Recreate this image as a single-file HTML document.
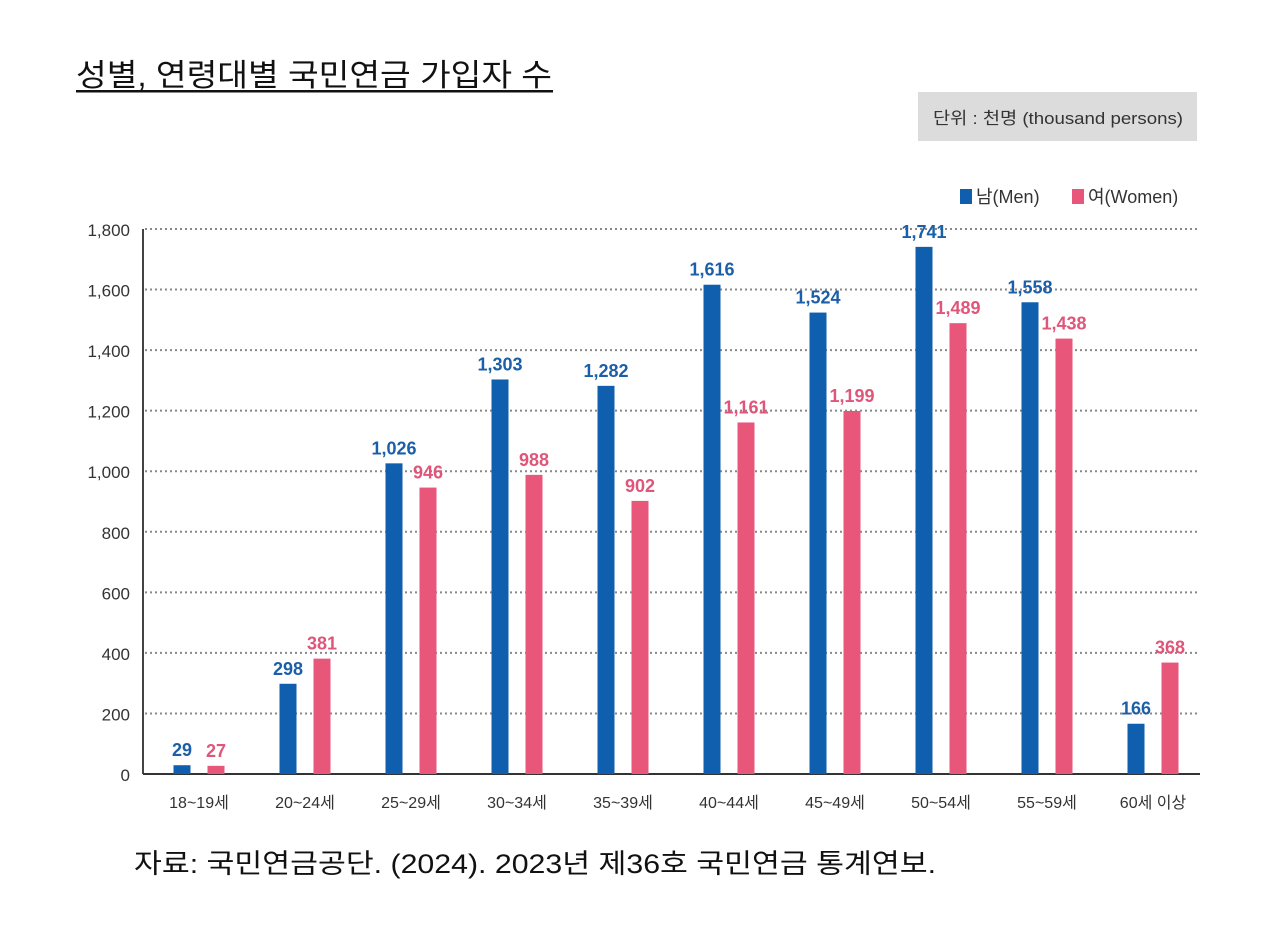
<!DOCTYPE html>
<html><head><meta charset="utf-8">
<style>
html,body{margin:0;padding:0;background:#fff;}
svg text{font-family:"Liberation Sans","Noto Sans CJK KR",sans-serif;}
</style></head>
<body>
<svg id="chart" width="1286" height="921" viewBox="0 0 1286 921" xmlns="http://www.w3.org/2000/svg">
<text x="76" y="86" font-size="31" fill="#111" textLength="476" lengthAdjust="spacingAndGlyphs">성별, 연령대별 국민연금 가입자 수</text>
<rect x="76" y="90" width="477" height="2.5" fill="#111"/>
<rect x="918" y="92" width="279" height="49" fill="#dcdcdc"/>
<text x="933" y="124" font-size="17" fill="#333" textLength="250" lengthAdjust="spacingAndGlyphs">단위 : 천명 (thousand persons)</text>
<g>
<rect x="960" y="189" width="12" height="15" fill="#0f5fae"/>
<text x="976" y="203" font-size="18" fill="#333">남(Men)</text>
<rect x="1072" y="189" width="12" height="15" fill="#e8567a"/>
<text x="1088" y="203" font-size="18" fill="#333">여(Women)</text>
</g>
<g id="grid"></g>
<g id="bars"></g>
<text x="134" y="873" font-size="27" fill="#111" textLength="802" lengthAdjust="spacingAndGlyphs">자료: 국민연금공단. (2024). 2023년 제36호 국민연금 통계연보.</text>
</svg>
<script>
const categories = ["18~19세","20~24세","25~29세","30~34세","35~39세","40~44세","45~49세","50~54세","55~59세","60세 이상"];
const menValues = [29,298,1026,1303,1282,1616,1524,1741,1558,166];
const womenValues = [27,381,946,988,902,1161,1199,1489,1438,368];
const yTicks = [0,200,400,600,800,1000,1200,1400,1600,1800];
const yTickLabels = ["0","200","400","600","800","1,000","1,200","1,400","1,600","1,800"];

const NS="http://www.w3.org/2000/svg";
const x0=143, x1=1200, yZero=774, yTop=229, yMax=1800;
const y = v => yZero - (v/yMax)*(yZero-yTop);
const groupX = i => 199 + 106*i;
const barW = 17;
function mk(tag, attrs, parent){const e=document.createElementNS(NS,tag);for(const k in attrs)e.setAttribute(k,attrs[k]);parent.appendChild(e);return e;}
const grid=document.getElementById('grid'), bars=document.getElementById('bars');
yTicks.forEach((t,i)=>{
  if(t>0){
    const l=mk('line',{x1:x0+2,x2:x1,y1:y(t),y2:y(t),stroke:'#888','stroke-width':2,'stroke-dasharray':'2 3'},grid);
    
    
  }
  const tx=mk('text',{x:x0-13,y:y(t)+7,'font-size':17,'text-anchor':'end',fill:'#333'},grid);
  tx.textContent=yTickLabels[i];
  
  
});
const ax=mk('line',{x1:x0,x2:x0,y1:yTop,y2:yZero,stroke:'#444','stroke-width':2},grid);


const bx=mk('line',{x1:x0,x2:x1,y1:yZero,y2:yZero,stroke:'#333','stroke-width':2},grid);


categories.forEach((c,i)=>{
  const cx=groupX(i);
  [[menValues[i],-17,'#0f5fae','#1b5fa8','men'],[womenValues[i],17,'#e8567a','#e0557a','women']].forEach(([v,off,col,tcol,s])=>{
    const bxx=cx+off-barW/2;
    const r=mk('rect',{x:bxx,y:y(v),width:barW,height:yZero-y(v),fill:col},bars);
    
    
    const t=mk('text',{x:cx+off,y:y(v)-9,'font-size':18,'font-weight':'bold','text-anchor':'middle',fill:tcol},bars);
    t.textContent=v.toLocaleString('en-US');
    
    
  });
  const lab=mk('text',{x:cx,y:808,'font-size':16,'text-anchor':'middle',fill:'#333'},bars);
  lab.textContent=c;
  
  
});
</script>
</body></html>
